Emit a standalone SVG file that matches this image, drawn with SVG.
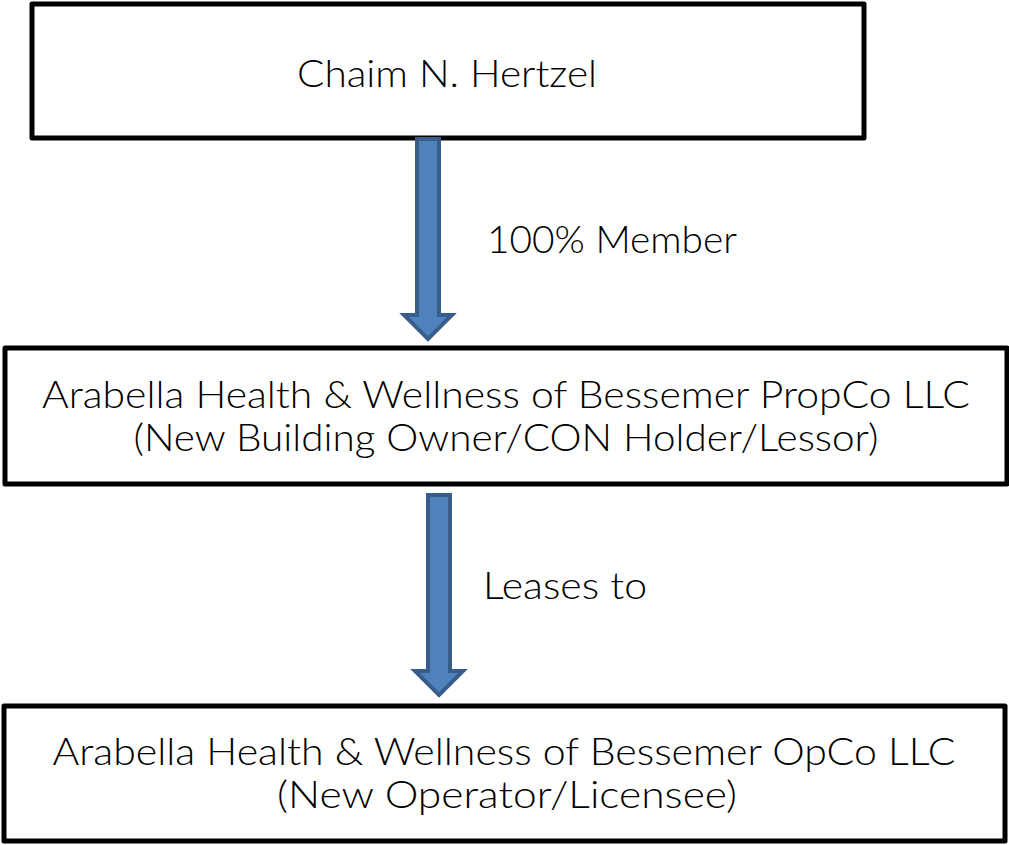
<svg xmlns="http://www.w3.org/2000/svg" width="1009" height="845" viewBox="0 0 1009 845">
<style>
.box{fill:#fff;stroke:#000;stroke-width:5;stroke-linejoin:round}
.t{font-family:"Lato","DejaVu Sans","Liberation Sans",sans-serif;font-weight:300;font-size:37px;fill:#000;text-anchor:middle}
.arr{fill:#4f81bd;stroke:#385d8a;stroke-width:4;stroke-linejoin:miter}
</style>
<rect width="1009" height="845" fill="#fff"/>
<g id="node-hertzel">
<rect class="box" x="32" y="4" width="832" height="134"/>
<text class="t" x="447" y="87" textLength="300" lengthAdjust="spacingAndGlyphs">Chaim N. Hertzel</text>
</g>
<g id="node-propco">
<rect class="box" x="5" y="348" width="1002" height="136"/>
<text class="t" x="506" y="408" textLength="928" lengthAdjust="spacingAndGlyphs">Arabella Health &amp; Wellness of Bessemer PropCo LLC</text>
<text class="t" x="506" y="451" textLength="745" lengthAdjust="spacingAndGlyphs">(New Building Owner/CON Holder/Lessor)</text>
</g>
<g id="node-opco">
<rect class="box" x="4" y="706" width="1001" height="135"/>
<text class="t" x="504" y="765" textLength="903" lengthAdjust="spacingAndGlyphs">Arabella Health &amp; Wellness of Bessemer OpCo LLC</text>
<text class="t" x="507" y="808" textLength="460" lengthAdjust="spacingAndGlyphs">(New Operator/Licensee)</text>
</g>
<g id="connectors">
<polygon class="arr" points="417,139 439,139 439,315 452,315 428,339 404,315 417,315"/>
<polygon class="arr" points="428,495 450,495 450,671 463,671 439,695 415,671 428,671"/>
<text class="t" x="612" y="253" textLength="250" lengthAdjust="spacingAndGlyphs">100% Member</text>
<text class="t" x="565" y="599" textLength="164" lengthAdjust="spacingAndGlyphs">Leases to</text>
</g>
</svg>
